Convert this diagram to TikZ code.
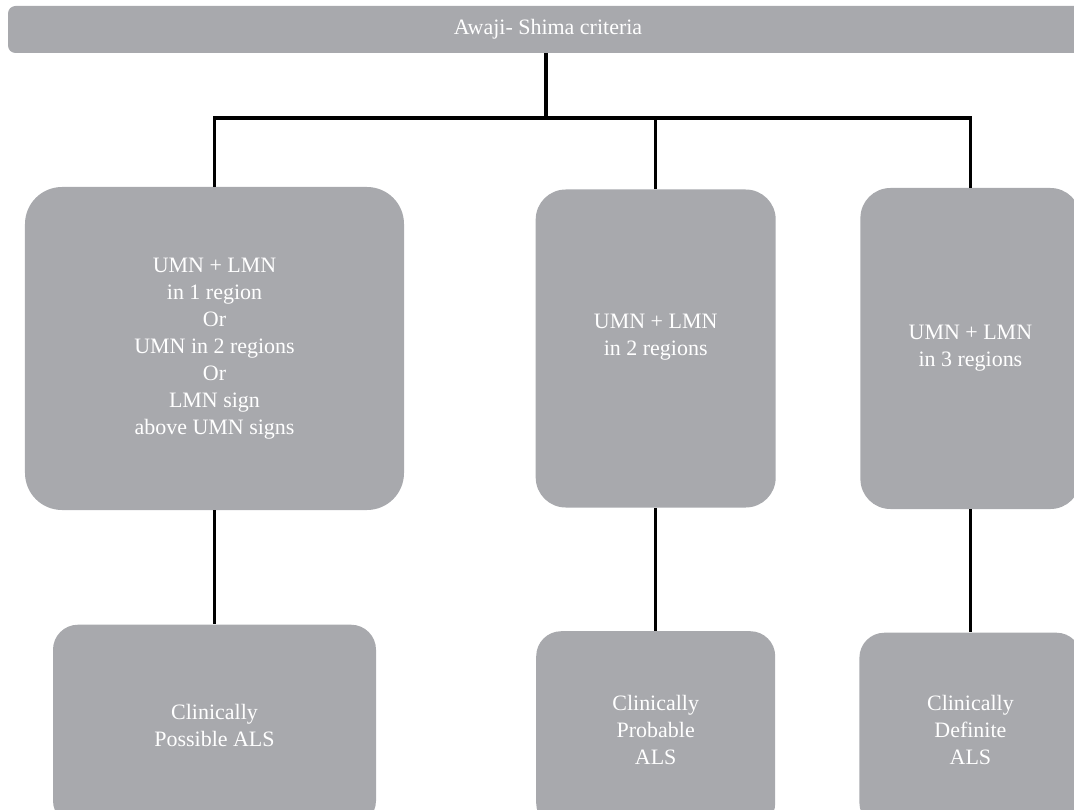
\documentclass[tikz,border=0pt]{standalone}
\usepackage{fontspec}
\setmainfont{Liberation Serif}
\usepackage{xcolor}
\usepackage{tikz}
\usetikzlibrary{positioning,calc}
\definecolor{boxgray}{RGB}{168,169,173}

\begin{document}
\begin{tikzpicture}[
        font=\fontsize{12.5}{15.4}\selectfont,
        node distance=2.3cm,
        crit/.style={rectangle,rounded corners=0.6cm,fill=boxgray,text=white,align=center,inner sep=0pt},
        link/.style={line width=2pt,black}
    ]
        \useasboundingbox (0,0) rectangle (21.48,-16.2);
        \clip (0,0) rectangle (21.48,-16.2);
        \node[crit,rounded corners=0.15cm,minimum width=21.6cm,minimum height=0.94cm] (awaji) at (10.96,-0.59) {Awaji- Shima criteria};
        \node[crit,rounded corners=0.74cm,minimum width=7.58cm,minimum height=6.46cm] (one) at (4.29,-6.97) {UMN + LMN\\in 1 region\\Or\\UMN in 2 regions\\Or\\LMN sign\\above UMN signs};
        \node[crit,minimum width=4.8cm,minimum height=6.36cm,right=2.62cm of one] (two) {UMN + LMN\\in 2 regions\\~};
        \node[crit,minimum width=4.4cm,minimum height=6.42cm,right=1.68cm of two] (three) {UMN + LMN\\in 3 regions};
        \node[crit,rounded corners=0.5cm,minimum width=6.46cm,minimum height=4.02cm,below=2.28cm of one] (poss) {Clinically\\Possible ALS};
        \node[crit,rounded corners=0.5cm,minimum width=4.78cm,minimum height=3.94cm,below=2.46cm of two] (prob) {Clinically\\Probable\\ALS};
        \node[crit,rounded corners=0.5cm,minimum width=4.44cm,minimum height=3.9cm,below=2.46cm of three] (defin) {Clinically\\Definite\\ALS};

        \coordinate (split) at (10.92,-2.36);
        \draw[link] (awaji.south -| split) -- (split);
        \draw[link] (one.north) |- (split) -| (three.north);
        \draw[link] (two.north) -- (two.north |- split);
        \draw[link] (one) -- (poss);
        \draw[link] (two) -- (prob);
        \draw[link] (three) -- (defin);
    \end{tikzpicture}
\end{document}
